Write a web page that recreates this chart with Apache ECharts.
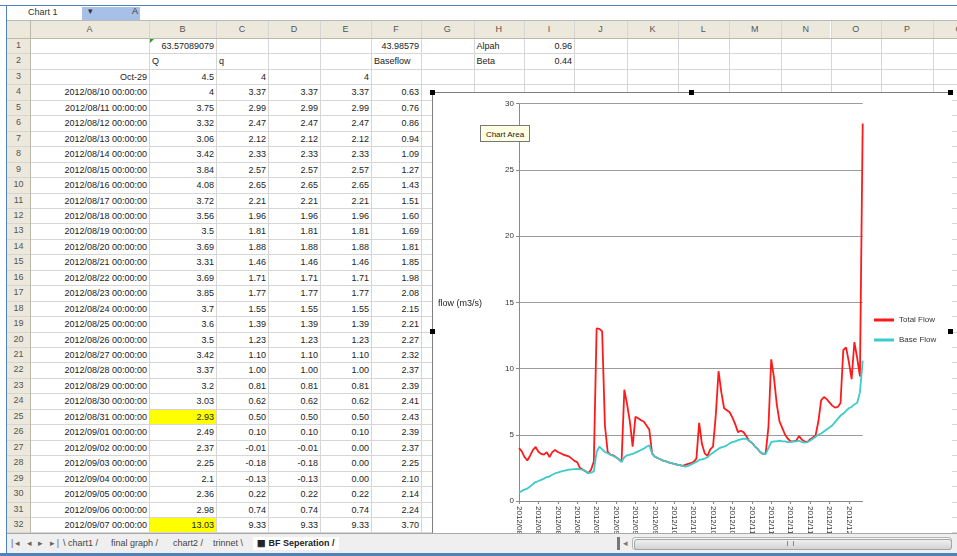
<!DOCTYPE html>
<html>
<head>
<meta charset="utf-8">
<title>BF Seperation</title>
<script src="https://cdn.jsdelivr.net/npm/echarts@6/dist/echarts.min.js"></script>
<style>
  body { margin: 0; width: 957px; height: 556px; overflow: hidden; background: #fff; position: relative;
         font-family: "Liberation Sans", Arial, sans-serif; font-size: 9px; color: #222; }
  .abs { position: absolute; }
  .hline { position: absolute; height: 1px; background: #d6d6d6; }
  .vline { position: absolute; width: 1px; background: #d6d6d6; }
  .hdr { position: absolute; background: #ece9dc; color: #555; text-align: center; }
  .cell { position: absolute; white-space: nowrap; overflow: hidden; line-height: 15px; padding: 0 2px; box-sizing: border-box; }
  .tab { position: absolute; top: 3px; height: 13px; line-height: 13px; font-size: 9px; color: #444; }
  #chartBox { position: absolute; left: 432px; top: 92px; width: 519px; height: 470px; background: #fff;
              border: 1px solid #7f7f7f; box-sizing: border-box; z-index: 5; }
  #chart { position: absolute; left: 0; top: 0; width: 519px; height: 470px; }
  .handle { position: absolute; width: 5px; height: 5px; background: #000; z-index: 6; }
</style>
</head>
<body>

<div id="sheet"></div>

<div id="chartBox"><div id="chart"></div></div>
<div class="handle" style="left:430px;top:90px"></div>
<div class="handle" style="left:689px;top:90px"></div>
<div class="handle" style="left:948px;top:90px"></div>
<div class="handle" style="left:430px;top:329px"></div>
<div class="handle" style="left:948px;top:329px"></div>

<div class="abs" style="left:480px;top:125px;width:50px;height:17px;background:#ffffe1;border:1px solid #777;
     font-size:8px;line-height:17px;text-align:center;z-index:7;box-sizing:border-box">Chart Area</div>

<!-- sheet tabs and scroll bar -->
<div class="abs" style="left:7px;top:533px;width:950px;height:20px;background:#efefef;border-top:1px solid #a8a8a8;z-index:10">
  <div class="tab" style="left:4px;color:#666;letter-spacing:2px">|◂ ◂ ▸ ▸|</div>
  <div class="tab" style="left:56px">\ chart1 /</div>
  <div class="tab" style="left:104px">final graph /</div>
  <div class="tab" style="left:166px">chart2 /</div>
  <div class="tab" style="left:206px">trinnet \</div>
  <div class="tab" style="left:246px;background:#fff;font-weight:bold;padding:0 4px;color:#222">▦ BF Seperation /</div>
  <div class="abs" style="left:610px;top:3px;width:3px;height:13px;background:#777"></div>
  <div class="tab" style="left:616px;color:#777">◂</div>
  <div class="abs" style="left:625px;top:3px;width:320px;height:13px;background:#f6f6f6;border:1px solid #b5b5b5;border-radius:3px;box-sizing:border-box">
    <div class="abs" style="left:1px;top:1px;width:316px;height:9px;border-radius:3px;border:1px solid #a5a5a5;
         background:linear-gradient(#f0f0f0,#d2d2d2)"></div>
    <div class="abs" style="left:154px;top:3px;width:5px;height:5px;border-left:1px solid #888;border-right:1px solid #888"></div>
  </div>
</div>

<!-- window frame -->
<div class="abs" style="left:0;top:5px;width:957px;height:1px;background:#4f81bd;z-index:11"></div>
<div class="abs" style="left:6px;top:5px;width:1px;height:551px;background:#4f81bd;z-index:11"></div>
<div class="abs" style="left:0;top:553px;width:957px;height:3px;background:#4f81bd;z-index:11"></div>

<script>
// ---- data ----
var startDate = [2012, 7, 10];
var totalFlow = [
  4, 3.75, 3.32, 3.06, 3.42, 3.84, 4.08, 3.72, 3.56, 3.5,
  3.69, 3.31, 3.69, 3.85, 3.7, 3.6, 3.5, 3.42, 3.37, 3.2,
  3.03, 2.93, 2.49, 2.37, 2.25, 2.1, 2.36, 2.98, 13.03, 13.0,
  12.8, 5.7, 3.7, 3.5, 3.45, 3.3, 3.15, 2.95, 8.4, 7.3,
  6.0, 4.1, 6.35, 6.25, 6.1, 6.0, 5.7, 5.4, 3.6, 3.35,
  3.25, 3.15, 3.05, 3.0, 2.92, 2.85, 2.8, 2.75, 2.7, 2.65,
  2.73, 2.8, 2.85, 2.95, 3.2, 5.9, 4.3, 3.6, 3.4, 3.9,
  4.1, 6.5, 9.8, 8.2, 7.0, 6.85, 6.7, 6.3, 5.8, 5.2,
  5.3, 5.2, 4.9, 4.55, 4.4, 4.15, 3.95, 3.7, 3.55, 3.6,
  5.6, 10.7, 9.3, 7.3, 6.0, 5.5, 5.0, 4.7, 4.5, 4.5,
  4.55, 4.9, 4.65, 4.5, 4.45, 4.65, 4.8, 4.95, 6.0, 7.6,
  7.85, 7.7, 7.45, 7.2, 7.05, 7.1, 7.4, 11.4, 11.6, 10.5,
  9.2, 12.0, 10.8, 9.4, 28.5
];
var baseFlow = [
  0.63, 0.76, 0.86, 0.94, 1.09, 1.27, 1.43, 1.51, 1.60, 1.69,
  1.81, 1.85, 1.98, 2.08, 2.15, 2.21, 2.27, 2.32, 2.37, 2.39,
  2.41, 2.43, 2.39, 2.37, 2.25, 2.10, 2.14, 2.24, 3.70, 4.1,
  3.9, 3.7, 3.6, 3.5, 3.4, 3.3, 3.15, 2.95, 3.3, 3.45,
  3.5, 3.55, 3.65, 3.75, 3.85, 3.95, 4.1, 4.2, 3.6, 3.35,
  3.25, 3.15, 3.05, 3.0, 2.92, 2.85, 2.8, 2.75, 2.7, 2.65,
  2.6, 2.65, 2.75, 2.85, 2.95, 3.1, 3.15, 3.2, 3.3, 3.5,
  3.65, 3.8, 3.95, 4.05, 4.1, 4.2, 4.35, 4.45, 4.5, 4.6,
  4.65, 4.7, 4.7, 4.55, 4.4, 4.15, 3.95, 3.7, 3.55, 3.55,
  4.0, 4.45, 4.5, 4.5, 4.55, 4.5, 4.5, 4.45, 4.45, 4.5,
  4.5, 4.55, 4.45, 4.4, 4.45, 4.55, 4.7, 4.85, 5.0, 5.1,
  5.25, 5.4, 5.55, 5.7, 5.95, 6.2, 6.45, 6.6, 6.8, 7.0,
  7.1, 7.3, 7.4, 8.2, 10.6
];
// column C (q) of the sheet, rows 4-32
var quickFlow = [3.37, 2.99, 2.47, 2.12, 2.33, 2.57, 2.65, 2.21, 1.96, 1.81,
  1.88, 1.46, 1.71, 1.77, 1.55, 1.39, 1.23, 1.10, 1.00, 0.81,
  0.62, 0.50, 0.10, -0.01, -0.18, -0.13, 0.22, 0.74, 9.33];
var yTicks = [0, 5, 10, 15, 20, 25, 30];

function pad(n) { return n < 10 ? '0' + n : '' + n; }
var dates = [];
for (var i = 0; i < totalFlow.length; i++) {
  var d = new Date(startDate[0], startDate[1], startDate[2] + i);
  dates.push(d.getFullYear() + '/' + pad(d.getMonth() + 1) + '/' + pad(d.getDate()));
}

// ---- spreadsheet ----
var sheet = document.getElementById('sheet');
var colEdges = [30, 149, 216, 268, 320, 371, 421, 473.5, 524, 574, 627, 678, 728.6, 780.8, 830.5, 881, 933, 985];
var colNames = 'ABCDEFGHIJKLMNOPQ'.split('');
var rowTop = 38, rowH = 15.45, nRows = 32;

function add(html) { sheet.insertAdjacentHTML('beforeend', html); }

// name box / formula bar
add('<div class="abs" style="left:28px;top:7px;font-size:9px;color:#333">Chart 1</div>');
add('<div class="abs" style="left:82px;top:7px;width:58px;height:13px;background:#a6c0e8"></div>');
add('<div class="abs" style="left:88px;top:6px;font-size:9px;color:#333">▾</div>');
add('<div class="abs" style="left:132px;top:6px;font-size:9px;color:#333">A</div>');
add('<div class="hline" style="left:7px;top:20px;width:950px;background:#b9b9b9"></div>');

// headers
add('<div class="hdr" style="left:7px;top:21px;width:23px;height:17px"></div>');
for (var c = 0; c < colNames.length; c++) {
  var x0 = colEdges[c], x1 = colEdges[c + 1];
  add('<div class="hdr" style="left:' + x0 + 'px;top:21px;width:' + (x1 - x0) + 'px;height:17px;line-height:17px">' + colNames[c] + '</div>');
}
add('<div class="hdr" style="left:7px;top:38px;width:23px;height:' + (nRows * rowH) + 'px"></div>');
for (var r = 1; r <= nRows; r++) {
  add('<div class="abs" style="left:7px;top:' + (rowTop + (r - 1) * rowH) + 'px;width:23px;line-height:15px;text-align:center;color:#555">' + r + '</div>');
}

// grid lines
for (var r = 0; r <= nRows; r++) {
  add('<div class="hline" style="left:7px;top:' + (rowTop + r * rowH) + 'px;width:950px"></div>');
}
for (var c = 0; c < colEdges.length; c++) {
  add('<div class="vline" style="left:' + colEdges[c] + 'px;top:21px;height:' + (rowTop - 21 + nRows * rowH) + 'px"></div>');
}
add('<div class="hline" style="left:7px;top:38px;width:950px;background:#bdb9a8"></div>');
add('<div class="vline" style="left:30px;top:21px;height:512px;background:#bdb9a8"></div>');

function cell(r, col, text, align, bg) {
  var c = colNames.indexOf(col);
  var x0 = colEdges[c], x1 = colEdges[c + 1];
  var y = rowTop + (r - 1) * rowH;
  add('<div class="cell" style="left:' + (x0 + 1) + 'px;top:' + (y + 1) + 'px;width:' + (x1 - x0 - 1) + 'px;height:' + (rowH - 1) +
      'px;text-align:' + (align === 'r' ? 'right' : 'left') + (bg ? ';background:' + bg : '') + '">' + text + '</div>');
}

cell(1, 'B', '63.57089079', 'r'); cell(1, 'F', '43.98579', 'r'); cell(1, 'H', 'Alpah', 'l'); cell(1, 'I', '0.96', 'r');
cell(2, 'B', 'Q', 'l'); cell(2, 'C', 'q', 'l'); cell(2, 'F', 'Baseflow', 'l'); cell(2, 'H', 'Beta', 'l'); cell(2, 'I', '0.44', 'r');
cell(3, 'A', 'Oct-29', 'r'); cell(3, 'B', '4.5', 'r'); cell(3, 'C', '4', 'r'); cell(3, 'E', '4', 'r');
for (var k = 0; k < quickFlow.length; k++) {
  var row = k + 4;
  var yellow = (row === 25 || row === 32) ? '#ffff00' : null;
  cell(row, 'A', dates[k] + ' 00:00:00', 'r');
  cell(row, 'B', String(totalFlow[k]), 'r', yellow);
  cell(row, 'C', quickFlow[k].toFixed(2), 'r');
  cell(row, 'D', quickFlow[k].toFixed(2), 'r');
  cell(row, 'E', Math.max(0, quickFlow[k]).toFixed(2), 'r');
  cell(row, 'F', baseFlow[k].toFixed(2), 'r');
}
add('<div class="abs" style="left:150px;top:39px;width:0;height:0;border-top:4px solid #2e9a2e;border-right:4px solid transparent"></div>');

// ---- chart ----
var myChart = echarts.init(document.getElementById('chart'), null, { renderer: 'canvas' });
var axisGrey = '#8a8a8a';
var option = {
  animation: false,
  backgroundColor: '#fff',
  textStyle: { fontFamily: 'Liberation Sans, Arial, sans-serif' },
  grid: { left: 86, top: 10.6, width: 343.7, height: 397.4, containLabel: false },
  legend: {
    orient: 'vertical',
    left: 436, top: 218,
    icon: 'rect', itemWidth: 20, itemHeight: 3, itemGap: 12,
    textStyle: { fontSize: 8, color: '#333' },
    data: ['Total Flow', 'Base Flow']
  },
  graphic: [
    { type: 'text', left: 5, top: 206, style: { text: 'flow (m3/s)', fontSize: 9, fill: '#222', fontFamily: 'Liberation Sans, Arial' } }
  ],
  xAxis: {
    type: 'category',
    data: dates,
    boundaryGap: false,
    axisLine: { lineStyle: { color: axisGrey } },
    axisTick: { interval: 6, length: 3, lineStyle: { color: axisGrey } },
    axisLabel: { interval: 6, rotate: -90, fontSize: 8, color: '#333', margin: 5 },
    splitLine: { show: false }
  },
  yAxis: {
    type: 'value',
    min: yTicks[0], max: yTicks[yTicks.length - 1], interval: 5,
    axisLine: { show: true, lineStyle: { color: axisGrey } },
    axisTick: { show: true, length: 3, lineStyle: { color: axisGrey } },
    axisLabel: { fontSize: 8, color: '#333', margin: 5 },
    splitLine: { lineStyle: { color: '#9c9c9c', width: 1 } }
  },
  series: [
    {
      name: 'Total Flow', type: 'line', data: totalFlow,
      symbol: 'none', showSymbol: false,
      lineStyle: { color: '#ff1a1a', width: 1.8 }, itemStyle: { color: '#ff1a1a' }
    },
    {
      name: 'Base Flow', type: 'line', data: baseFlow,
      symbol: 'none', showSymbol: false,
      lineStyle: { color: '#3ccaca', width: 1.8 }, itemStyle: { color: '#3ccaca' }
    }
  ]
};
myChart.setOption(option);
</script>
</body>
</html>
